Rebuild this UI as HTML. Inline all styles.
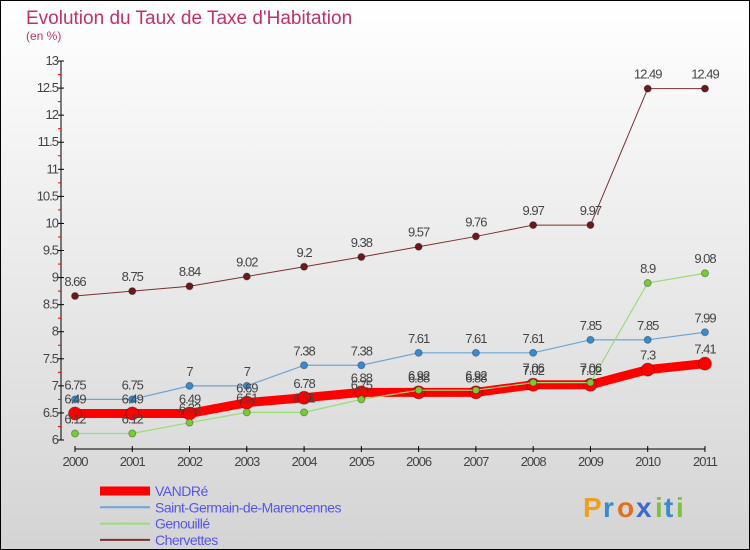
<!DOCTYPE html>
<html><head><meta charset="utf-8"><style>
body{margin:0}
#c{width:750px;height:550px;position:relative;font-family:"Liberation Sans",sans-serif;overflow:hidden}
</style></head><body>
<div id="c">
<svg id="s" width="750" height="550" xmlns="http://www.w3.org/2000/svg">
<defs><linearGradient id="bg" x1="0" y1="0" x2="0" y2="1"><stop offset="0" stop-color="#ffffff"/><stop offset="1" stop-color="#d4d4d4"/></linearGradient></defs>
<rect x="0.5" y="0.5" width="749" height="549" fill="url(#bg)" stroke="#000"/>
<text x="26" y="24" font-size="19" fill="#c0306a">Evolution du Taux de Taxe d'Habitation</text>
<text x="26" y="40" font-size="12" fill="#c0306a">(en %)</text>
<g id="axes"></g><g id="series"></g><g id="legend"></g>
<g font-size="28" font-weight="bold">
<text x="583" y="517" fill="#f0a020">P</text><text x="603" y="517" fill="#3a8ad0">r</text><text x="617" y="517" fill="#e07020">o</text><text x="636" y="517" fill="#3a6ad0">x</text><text x="655" y="517" fill="#80c040">i</text><text x="664" y="517" fill="#3a8ad0">t</text><text x="676" y="517" fill="#80c040">i</text>
</g>
</svg></div>
<script>
const years=[2000,2001,2002,2003,2004,2005,2006,2007,2008,2009,2010,2011];
const vandre=[6.49,6.49,6.49,6.69,6.78,6.88,6.88,6.88,7.02,7.02,7.3,7.41];
const stgermain=[6.75,6.75,7,7,7.38,7.38,7.61,7.61,7.61,7.85,7.85,7.99];
const genouille=[6.12,6.12,6.32,6.51,6.51,6.75,6.92,6.92,7.06,7.06,8.9,9.08];
const chervettes=[8.66,8.75,8.84,9.02,9.2,9.38,9.57,9.76,9.97,9.97,12.49,12.49];
const yTicks=[6,6.5,7,7.5,8,8.5,9,9.5,10,10.5,11,11.5,12,12.5,13];
const NS="http://www.w3.org/2000/svg";
const xs=i=>75+i*57.27;
const ys=v=>440-(v-6)*54.14;
function mk(t,a,p){const e=document.createElementNS(NS,t);for(const k in a)e.setAttribute(k,a[k]);p.appendChild(e);return e;}
const ax=document.getElementById('axes');
const yl=mk('line',{x1:61,y1:ys(13),x2:61,y2:ys(6),stroke:'#000'},ax);


const xl=mk('line',{x1:xs(0),y1:449,x2:xs(11),y2:449,stroke:'#000'},ax);


yTicks.forEach(v=>{
 mk('line',{x1:58,y1:ys(v),x2:64,y2:ys(v),stroke:'#000'},ax);
 if(v<13) mk('line',{x1:58,y1:ys(v+0.25),x2:61,y2:ys(v+0.25),stroke:'#e00'},ax);
 const t=mk('text',{x:58,y:ys(v)+4,'font-size':13,fill:'#444','text-anchor':'end','letter-spacing':'-1'},ax);
 t.textContent=String(v);
 
 
});
years.forEach((y,i)=>{
 mk('line',{x1:xs(i),y1:446,x2:xs(i),y2:452,stroke:'#000'},ax);
 const t=mk('text',{x:xs(i),y:466,'font-size':13,fill:'#444','text-anchor':'middle','letter-spacing':'-1'},ax);
 t.textContent=String(y);
 
 
});
const se=document.getElementById('series');
function draw(data,color,w,r,fill,name){
 const g=mk('g',{},se);
 
 
 mk('polyline',{points:data.map((v,i)=>xs(i)+','+ys(v)).join(' '),fill:'none',stroke:color,'stroke-width':w,'stroke-linejoin':'round'},g);
 data.forEach((v,i)=>{
  const c=mk('circle',{cx:xs(i),cy:ys(v),r:r,fill:fill,stroke:'rgba(0,0,0,0.3)'},g);
  
  
  const t=mk('text',{x:xs(i),y:ys(v)-10,'font-size':13,fill:'#444','text-anchor':'middle','letter-spacing':'-1'},g);
  t.textContent=String(v);
  
  
 });
}
draw(chervettes,'#7a3030',1,3.5,'#6a1a1a','chervettes');
draw(stgermain,'#6aa6d6',1.2,3.5,'#3a8ad0','saint-germain');
draw(vandre,'#ff0000',9,6.5,'#ff0000','vandre');
draw(genouille,'#99dd77',1.2,3.5,'#77cc33','genouille');
const lg=document.getElementById('legend');
[['VANDRé','#ff0000',9],['Saint-Germain-de-Marencennes','#6aa6d6',2],['Genouillé','#99dd77',2],['Chervettes','#7a3030',2]].forEach((d,i)=>{
 const y=491+i*16.3;
 const g=mk('g',{},lg);
 
 
 mk('line',{x1:100,y1:y,x2:150,y2:y,stroke:d[1],'stroke-width':d[2]},g);
 const t=mk('text',{x:155,y:y+5,'font-size':14,fill:'#5555ee','letter-spacing':'-0.5'},g);
 t.textContent=d[0];
});
</script>
</body></html>
